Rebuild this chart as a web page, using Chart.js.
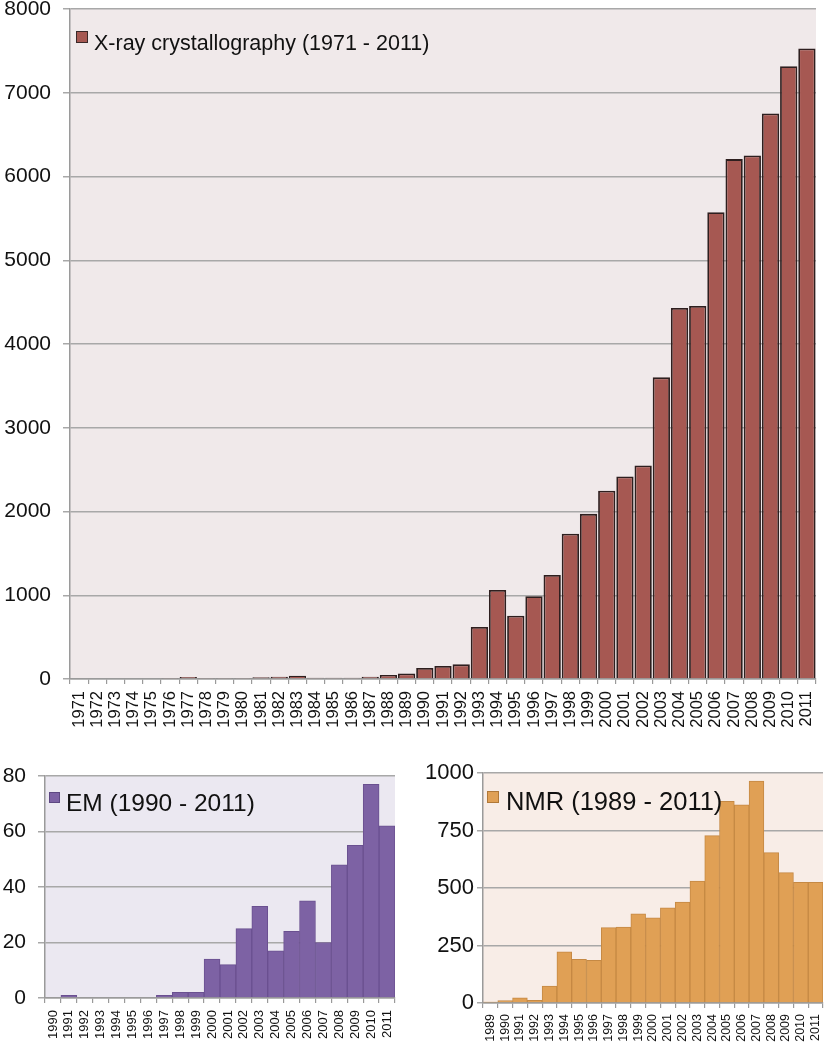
<!DOCTYPE html>
<html>
<head>
<meta charset="utf-8">
<script src="https://cdn.jsdelivr.net/npm/chart.js@4.4.1/dist/chart.umd.min.js"></script>
<style>
  html, body { margin: 0; padding: 0; background: #ffffff; }
  body { width: 827px; height: 1050px; position: relative; overflow: hidden; }
  .box { position: absolute; }
</style>
</head>
<body>
<div class="box" style="left:0;top:0;width:827px;height:745px;"><canvas id="xray"></canvas></div>
<div class="box" style="left:0;top:750px;width:410px;height:300px;"><canvas id="em"></canvas></div>
<div class="box" style="left:410px;top:750px;width:417px;height:300px;"><canvas id="nmr"></canvas></div>
<script>
// ---------- DATA ----------
const xrayYears = ["1971","1972","1973","1974","1975","1976","1977","1978","1979","1980",
  "1981","1982","1983","1984","1985","1986","1987","1988","1989","1990",
  "1991","1992","1993","1994","1995","1996","1997","1998","1999","2000",
  "2001","2002","2003","2004","2005","2006","2007","2008","2009","2010","2011"];
const xrayValues = [0,0,0,0,0,12,24,12,12,12,
  20,28,40,16,16,16,28,48,67,131,
  155,175,622,1064,755,988,1241,1735,1972,2249,
  2418,2550,3602,4430,4454,5574,6208,6252,6752,7316,7528];
const xrayLabel = "X-ray crystallography (1971 - 2011)";
const xrayTicks = [0,1000,2000,3000,4000,5000,6000,7000,8000];

const emYears = ["1990","1991","1992","1993","1994","1995","1996","1997","1998","1999",
  "2000","2001","2002","2003","2004","2005","2006","2007","2008","2009","2010","2011"];
const emValues = [0,1,0,0,0,0,0,1,2,2,14,12,25,33,17,24,35,20,48,55,77,62];
const emLabel = "EM (1990 - 2011)";
const emTicks = [0,20,40,60,80];

const nmrYears = ["1989","1990","1991","1992","1993","1994","1995","1996","1997","1998","1999",
  "2000","2001","2002","2003","2004","2005","2006","2007","2008","2009","2010","2011"];
const nmrValues = [4,10,23,12,74,222,190,186,328,330,388,370,414,439,530,728,877,862,965,654,567,525,525];
const nmrLabel = "NMR (1989 - 2011)";
const nmrTicks = [0,250,500,750,1000];

// ---------- HELPERS ----------
const FONT = "'Liberation Sans', Arial, Helvetica, sans-serif";

function makeChart(id, labels, values, label, tickVals, cfg) {
  const bgPlugin = {
    id: 'bg_' + id,
    beforeDraw(chart) {
      const a = chart.chartArea, ctx = chart.ctx;
      ctx.save();
      ctx.fillStyle = cfg.plotBg;
      ctx.fillRect(a.left, a.top, a.right - a.left, a.bottom - a.top);
      ctx.restore();
    },
    afterDraw(chart) {
      const a = chart.chartArea, ctx = chart.ctx;
      const ds = chart.data.datasets[0];
      ctx.save();
      const sx = a.left + cfg.legend.dx, sy = a.top + cfg.legend.dy;
      ctx.fillStyle = ds.backgroundColor;
      ctx.fillRect(sx, sy, cfg.legend.size, cfg.legend.size);
      ctx.strokeStyle = cfg.legend.border;
      ctx.lineWidth = 1;
      ctx.strokeRect(sx + 0.5, sy + 0.5, cfg.legend.size - 1, cfg.legend.size - 1);
      ctx.fillStyle = '#111111';
      ctx.font = cfg.legend.font + 'px ' + FONT;
      ctx.textBaseline = 'alphabetic';
      ctx.textAlign = 'left';
      ctx.fillText(ds.label, sx + cfg.legend.size + cfg.legend.gap, a.top + cfg.legend.base);
      ctx.restore();
    }
  };
  return new Chart(document.getElementById(id), {
    type: 'bar',
    data: {
      labels: labels,
      datasets: [{
        label: label,
        data: values,
        backgroundColor: cfg.barColor,
        borderColor: cfg.barBorder,
        borderWidth: cfg.barBorderWidth,
        categoryPercentage: 1.0,
        barPercentage: cfg.barPct
      }]
    },
    options: {
      responsive: true,
      maintainAspectRatio: false,
      animation: false,
      layout: { padding: cfg.padding },
      plugins: { legend: { display: false }, tooltip: { enabled: false } },
      scales: {
        x: {
          afterFit(scale) {
            scale.height = cfg.xHeight;
            scale.paddingLeft = 0; scale.paddingRight = 0;
          },
          grid: { drawOnChartArea: false, drawTicks: true, tickLength: 5, color: '#9a9a9a', lineWidth: 1.2, offset: true },
          border: { color: '#9a9a9a', width: 1.5 },
          ticks: {
            autoSkip: false, minRotation: 90, maxRotation: 90,
            color: '#111111', padding: cfg.xPad,
            font: { family: FONT, size: cfg.xFont, lineHeight: 1.0 }
          }
        },
        y: {
          min: tickVals[0], max: tickVals[tickVals.length - 1],
          afterFit(scale) {
            scale.width = cfg.yWidth;
            scale.paddingTop = 0; scale.paddingBottom = 0;
          },
          afterBuildTicks(scale) { scale.ticks = tickVals.map(v => ({ value: v })); },
          grid: { color: '#a8a8a8', lineWidth: 1.5, tickLength: cfg.yTick },
          border: { color: '#9a9a9a', width: 1.5 },
          ticks: {
            color: '#111111', padding: cfg.yPad,
            callback: (v) => String(v),
            font: { family: FONT, size: cfg.yFont, lineHeight: 1.0 }
          }
        }
      }
    },
    plugins: [bgPlugin]
  });
}

makeChart('xray', xrayYears, xrayValues, xrayLabel, xrayTicks, {
  plotBg: '#f0e9ea', barColor: '#a65852', barBorder: '#2e1f1f', barBorderWidth: 1.8, barPct: 0.95,
  padding: { top: 9, right: 11, left: 0, bottom: 0 },
  xHeight: 66, yWidth: 70, xFont: 16.5, yFont: 21, xPad: 7, yPad: 12, yTick: 7,
  legend: { dx: 6, dy: 22, size: 12, gap: 6, font: 21.5, base: 41, border: '#3a2828' }
});

makeChart('em', emYears, emValues, emLabel, emTicks, {
  plotBg: '#ebe8f1', barColor: '#7d62a4', barBorder: '#6a5090', barBorderWidth: 1, barPct: 1.0,
  padding: { top: 26, right: 15, left: 0, bottom: 0 },
  xHeight: 52, yWidth: 45, xFont: 13, yFont: 21, xPad: 7, yPad: 12, yTick: 7,
  legend: { dx: 4, dy: 16, size: 11, gap: 6, font: 24.5, base: 35, border: '#5d4882' }
});

makeChart('nmr', nmrYears, nmrValues, nmrLabel, nmrTicks, {
  plotBg: '#f8ede7', barColor: '#e0a055', barBorder: '#c58944', barBorderWidth: 1, barPct: 1.0,
  padding: { top: 23, right: 4, left: 0, bottom: 0 },
  xHeight: 47, yWidth: 73, xFont: 12.5, yFont: 22, xPad: 6, yPad: 3, yTick: 6,
  legend: { dx: 4, dy: 18, size: 12, gap: 7, font: 25.5, base: 37, border: '#b07838' }
});
</script>
</body>
</html>
